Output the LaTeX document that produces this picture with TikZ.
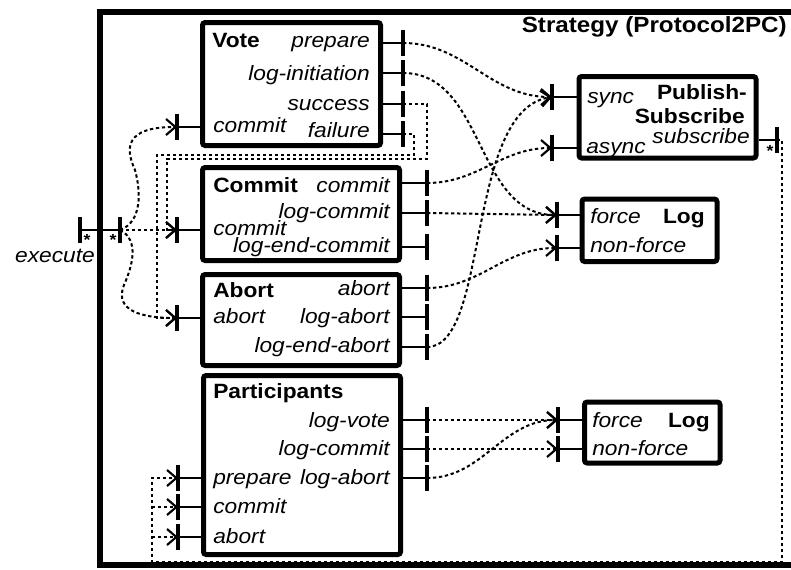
\documentclass[tikz,border=0pt]{standalone}
\usepackage{fontspec}
\setmainfont{Liberation Sans}[FakeStretch=1.1]
\usetikzlibrary{arrows.meta, positioning, calc, fit}

% short vertical bar that marks a port
\newcommand\portbar[1]{\draw[bar] (#1) ++(0,-13) -- ++(0,26);}

\begin{document}
\begin{tikzpicture}[
  x=0.75pt, y=-0.75pt,
  box/.style={draw, line width=3.75pt, rounded corners=2pt, inner sep=0pt},
  frame/.style={draw, line width=4.5pt, inner sep=0pt},
  ttl/.style={font=\fontsize{15.5}{17}\selectfont\bfseries, inner sep=0pt},
  lbl/.style={font=\fontsize{15.5}{17}\selectfont\itshape, inner sep=0pt},
  star/.style={font=\fontsize{12}{12}\selectfont\bfseries, inner sep=0pt},
  stub/.style={line width=2pt},
  bar/.style={line width=3pt},
  wire/.style={line width=1.5pt, dash pattern=on 2.5pt off 2pt},
  arr/.style={wire, -{Straight Barb[length=7pt, width=12pt, line width=1.6pt]}}
]
\useasboundingbox (0,0) rectangle (791,569);
\clip (0,0) rectangle (791,569);

% strategy frame (runs off to the right)
\node[frame, fit={(100,12) (840,565)}] (strategy) {};
\node[ttl, font=\fontsize{16.5}{18}\selectfont\bfseries, anchor=base east]
  (strategy-name) at (787,32) {Strategy (Protocol2PC)};

% components
\node[box, fit={(202.5,22.5) (380.5,145.5)}] (vote) {};
\node[box, fit={(202.5,167.5) (399.5,260.5)}] (commit) {};
\node[box, fit={(202.5,274.5) (399.5,365.5)}] (abort) {};
\node[box, fit={(203.5,375.5) (400.5,554.5)}] (parts) {};
\node[box, fit={(579,76.5) (756,158)}] (pubsub) {};
\node[box, fit={(582,199) (717,261.5)}] (log1) {};
\node[box, fit={(584.5,402) (720,463)}] (log2) {};

\node[ttl, anchor=base west] (vote-name) at (212,47) {Vote};
\node[ttl, anchor=base west] (commit-name) at (213,192) {Commit};
\node[ttl, anchor=base west] (abort-name) at (213,297) {Abort};
\node[ttl, anchor=base west] (parts-name) at (213,398) {Participants};
\node[ttl, anchor=base east] (pubsub-name1) at (747,99) {Publish-};
\node[ttl, anchor=base east] (pubsub-name2) at (745,123) {Subscribe};
\node[ttl, anchor=base east] (log1-name) at (705,223) {Log};
\node[ttl, anchor=base east] (log2-name) at (710,427) {Log};

% output ports
\foreach \n/\y/\b/\t in {prepare/43/47/prepare, init/73/80/log-initiation,
    success/104/110/success, failure/134/137/failure}{
  \coordinate (vote-\n) at (403,\y);
  \draw[stub] (vote.east |- vote-\n) -- (vote-\n);
  \portbar{vote-\n}
  \node[lbl, anchor=base east] (vote-\n-text) at (370,\b) {\t};
}
\foreach \n/\y/\b/\t in {commit/183/192/commit, log/213/218/log-commit,
    logend/247/252/log-end-commit}{
  \coordinate (commit-\n) at (427,\y);
  \draw[stub] (commit.east |- commit-\n) -- (commit-\n);
  \portbar{commit-\n}
  \node[lbl, anchor=base east] (commit-\n-text) at (390,\b) {\t};
}
\foreach \n/\y/\b/\t in {abort/288/295/abort, log/317/323/log-abort,
    logend/347/352/log-end-abort}{
  \coordinate (abort-\n) at (427,\y);
  \draw[stub] (abort.east |- abort-\n) -- (abort-\n);
  \portbar{abort-\n}
  \node[lbl, anchor=base east] (abort-\n-text) at (390,\b) {\t};
}
\foreach \n/\y/\b/\t in {logvote/420/427/log-vote, logcommit/449/455/log-commit,
    logabort/478/484/log-abort}{
  \coordinate (parts-\n) at (427,\y);
  \draw[stub] (parts.east |- parts-\n) -- (parts-\n);
  \portbar{parts-\n}
  \node[lbl, anchor=base east] (parts-\n-text) at (390,\b) {\t};
}
\coordinate (ps-subscribe) at (777,140);
\draw[stub] (pubsub.east |- ps-subscribe) -- (ps-subscribe);
\portbar{ps-subscribe}
\node[lbl, anchor=base east] (ps-subscribe-text) at (750,143) {subscribe};
\node[star] (ps-star) at (770,151) {*};

% input ports
\foreach \b/\n/\x/\y/\yb/\t in {vote/in/177/127/132/commit, commit/in/177/230/235/commit,
    abort/in/177/318/323/abort, parts/prepare/178/478/484/prepare,
    parts/commit/178/507/513/commit, parts/abort/178/537/543/abort}{
  \coordinate (\b-\n) at (\x,\y);
  \draw[stub] (\b-\n) -- (\b.west |- \b-\n);
  \portbar{\b-\n}
  \node[lbl, anchor=base west] (\b-\n-text) at (213,\yb) {\t};
}
\foreach \b/\n/\x/\y/\xt/\yb/\t in {pubsub/sync/552/97/587/103/sync,
    pubsub/async/552/148/586/153/async, log1/force/557/215/590/223/force,
    log1/nonforce/557/248/590/252/non-force, log2/force/558/420/592/427/force,
    log2/nonforce/558/449/592/455/non-force}{
  \coordinate (\b-\n) at (\x,\y);
  \draw[stub] (\b-\n) -- (\b.west |- \b-\n);
  \portbar{\b-\n}
  \node[lbl, anchor=base west] (\b-\n-text) at (\xt,\yb) {\t};
}

% execute port on the frame
\coordinate (exec-out) at (80,230);
\coordinate (exec) at (120,230);
\draw[stub] (exec-out) -- (exec);
\portbar{exec-out}
\portbar{exec}
\node[star] (exec-star1) at (87,240) {*};
\node[star] (exec-star2) at (113,240) {*};
\node[lbl, anchor=base east] (exec-text) at (95,262) {execute};

% bends of the routed wires
\coordinate (succ-r) at (427,159);
\coordinate (succ-l) at (167,159);
\coordinate (fail-r) at (414,155);
\coordinate (fail-l) at (157,155);
\coordinate (bus-r) at (782,562);
\coordinate (bus-l) at (152,562);

% wiring
\draw[arr] (exec) .. controls +(22,-8) and +(6,22) .. (135,170)
  .. controls +(-10,-22) and +(-52,0) .. (vote-in);
\draw[arr] (exec) -- (commit-in);
\draw[arr] (exec) .. controls +(20,10) and +(8,-18) .. (124,285)
  .. controls +(-8,20) and +(-47,0) .. (abort-in);
\draw[arr] (vote-success) -| (succ-r) -- (succ-l) |- (commit-in);
\draw[arr] (vote-failure) -| (fail-r) -- (fail-l) |- (abort-in);

\draw[arr] (vote-prepare) to[out=0, in=180] (pubsub-sync);
\draw[arr] (vote-init) to[out=0, in=180] (log1-force);
\draw[arr] (commit-commit) to[out=0, in=180] (pubsub-async);
\draw[arr] (commit-log) -- (log1-force);
\draw[arr] (abort-abort) to[out=0, in=180] (log1-nonforce);
\draw[arr] (abort-logend) .. controls +(63,0) and +(-87,13) .. (pubsub-sync);

\draw[arr] (parts-logvote) -- (log2-force);
\draw[arr] (parts-logcommit) -- (log2-nonforce);
\draw[arr] (parts-logabort) to[out=0, in=180] (log2-force);

\draw[arr] (ps-subscribe) -| (bus-r) -- (bus-l) |- (parts-prepare);
\draw[arr] (bus-l |- parts-commit) -- (parts-commit);
\draw[arr] (bus-l |- parts-abort) -- (parts-abort);
\end{tikzpicture}
\end{document}
